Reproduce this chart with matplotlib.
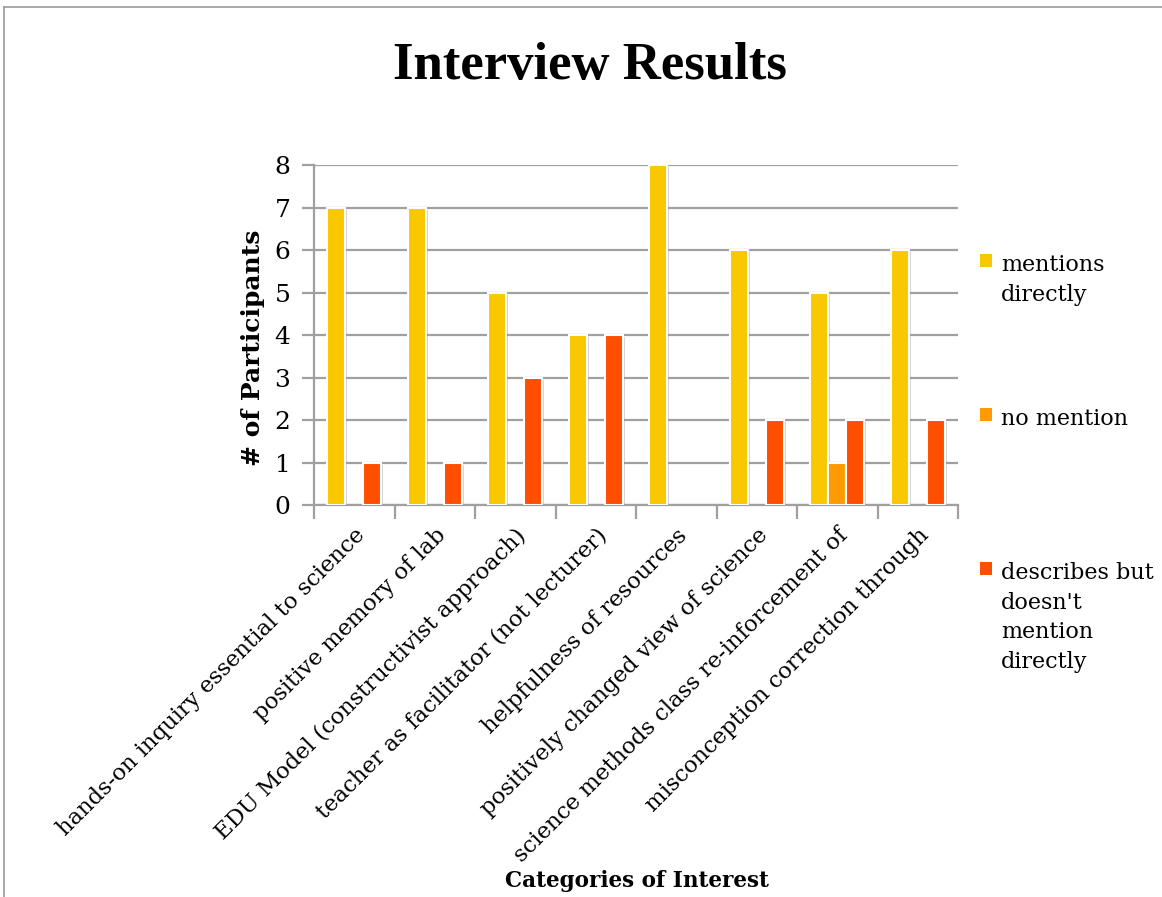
import matplotlib
matplotlib.use("Agg")
import matplotlib.pyplot as plt
import matplotlib.patheffects as pe
from matplotlib.lines import Line2D
from matplotlib.patches import Patch
import numpy as np

categories = [
    "hands-on inquiry essential to science",
    "positive memory of lab",
    "EDU Model (constructivist approach)",
    "teacher as facilitator (not lecturer)",
    "helpfulness of resources",
    "positively changed view of science",
    "science methods class re-inforcement of",
    "misconception correction through",
]
series_names = ["mentions\ndirectly", "no mention", "describes but\ndoesn't\nmention\ndirectly"]
mentions_directly = [7, 7, 5, 4, 8, 6, 5, 6]
no_mention = [0, 0, 0, 0, 0, 0, 1, 0]
describes_not_direct = [1, 1, 3, 4, 0, 2, 2, 2]
y_ticks = [0, 1, 2, 3, 4, 5, 6, 7, 8]

colors = ["#F9C800", "#FF9A00", "#FF4E00"]
FONT = "DejaVu Serif"
TFONT = "Liberation Serif"

fig = plt.figure(figsize=(11.62, 8.97), dpi=100)
ax = fig.add_axes([314/1162, 1-505/897, 644/1162, 340/897])

x = np.arange(len(categories))
w = 0.224
shadow = [pe.SimplePatchShadow(offset=(1.5, -1.5), shadow_rgbFace="#888888", alpha=0.35), pe.Normal()]
for i, (vals, c) in enumerate(zip([mentions_directly, no_mention, describes_not_direct], colors)):
    bc = ax.bar(x + (i - 1) * w, vals, width=w, color=c, edgecolor="white", linewidth=1.5, zorder=3)
    for b, v in zip(bc, vals):
        if v > 0:
            b.set_path_effects(shadow)
        else:
            b.set_visible(False)

ax.set_xlim(-0.5, len(categories) - 0.5)
ax.set_ylim(0, 8)
ax.set_yticks(y_ticks)
ax.yaxis.grid(True, color="#A0A0A0", linewidth=1.6, zorder=0)
ax.set_axisbelow(True)
for s in ["top", "right"]:
    ax.spines[s].set_visible(False)
for s in ["left", "bottom"]:
    ax.spines[s].set_color("#A0A0A0")
    ax.spines[s].set_linewidth(1.6)
ax.tick_params(axis="y", length=9, width=1.6, color="#A0A0A0", labelsize=18, pad=8)
ax.set_yticklabels([str(t) for t in y_ticks], fontfamily=FONT)

# category ticks at boundaries
ax.set_xticks(np.arange(len(categories) + 1) - 0.5, minor=False)
ax.set_xticklabels([])
ax.tick_params(axis="x", which="major", length=10, width=1.6, color="#A0A0A0")
ax.set_xticks(x, minor=True)
ax.set_xticklabels(categories, minor=True, rotation=45, ha="right", va="top",
                   rotation_mode="anchor", fontsize=16.3, fontfamily=FONT)
ax.tick_params(axis="x", which="minor", length=0, pad=14)

fig.text(253/1162, 1-348/897, "# of Participants", ha="center", va="center", rotation=90,
         fontsize=18, fontweight="bold", fontfamily=FONT)
fig.text(637/1162, 1-881/897, "Categories of Interest", ha="center", va="center",
         fontsize=15.5, fontweight="bold", fontfamily=FONT)
fig.text(590/1162, 1-66/897, "Interview Results", ha="center", va="center",
         fontsize=38, fontweight="bold", fontfamily=TFONT)

# legends
leg_tops = [254, 408, 562]
for c, name, top in zip(colors, series_names, leg_tops):
    leg = fig.legend([Patch(facecolor=c, edgecolor="none")], [name], loc="upper left",
                     bbox_to_anchor=(980/1162, 1-top/897),
                     frameon=False, prop={"family": FONT, "size": 16}, handlelength=0.55,
                     handleheight=0.55, handletextpad=0.4, borderpad=0, borderaxespad=0)
    for t in leg.get_texts():
        t.set_linespacing(1.45)
    try:
        for col in leg._legend_handle_box.get_children():
            for row in col.get_children():
                row.align = "top"
    except Exception:
        pass

# outer border
fig.add_artist(Line2D([4/1162, 1], [1-7/897, 1-7/897], color="#9A9A9A", lw=1.2, transform=fig.transFigure))
fig.add_artist(Line2D([4/1162, 4/1162], [0, 1-7/897], color="#9A9A9A", lw=1.2, transform=fig.transFigure))

fig.savefig("out.png", dpi=100)
